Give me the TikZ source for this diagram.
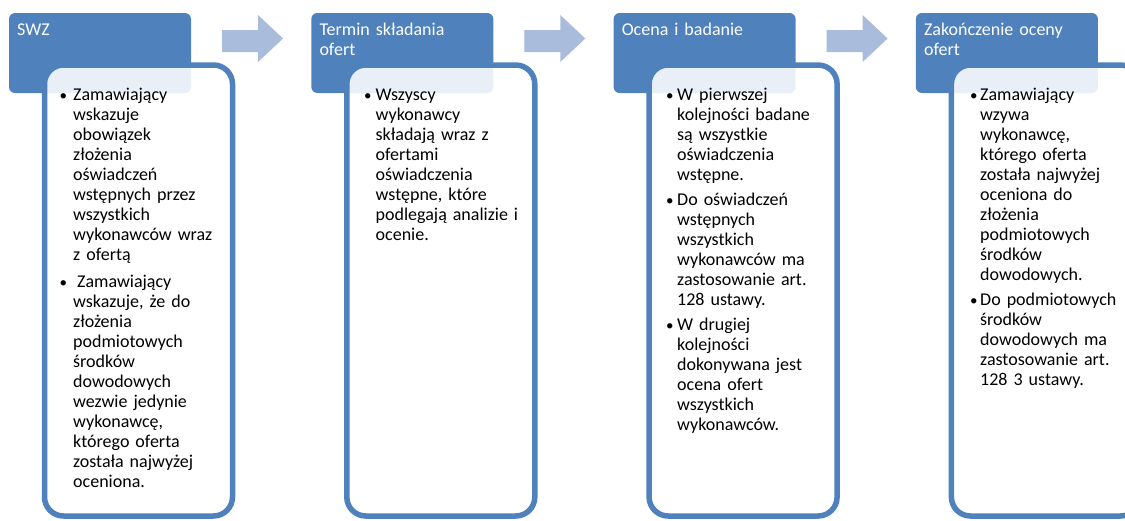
\documentclass[tikz,border=0pt]{standalone}
\usepackage{fontspec}
\setmainfont{Carlito}
\definecolor{hdr}{HTML}{4F81BD}
\definecolor{arr}{HTML}{A9BCDB}
\begin{document}
\begin{tikzpicture}[x=1pt,y=-1pt,
  header/.style={fill=hdr, rounded corners=6pt, minimum width=182pt, minimum height=80pt, anchor=north west, inner sep=0pt, outer sep=0pt},
  panel/.style={draw=hdr, line width=5.5pt, fill=white, fill opacity=0.88, draw opacity=1, rounded corners=19pt, minimum width=188pt, minimum height=451pt, anchor=north west, inner sep=0pt, outer sep=0pt},
  htext/.style={anchor=base west, text=white, font=\fontsize{18}{20}\selectfont, inner sep=0pt, text width=175pt, align=left},
  btext/.style={anchor=base west, text=black, font=\fontsize{18}{20}\selectfont, inner sep=0pt, text width=170pt, align=left},
  bul/.style={anchor=base west, text=black, font=\fontsize{15}{20}\selectfont, inner sep=0pt},
  arrowshape/.style={fill=arr}
]
\useasboundingbox (0,0) rectangle (1125,520);
\clip (0,0) rectangle (1125,520);

% headers
\node[header] (h1) at (9,13) {};
\node[header] (h2) at (311.3,13) {};
\node[header] (h3) at (613.6,13) {};
\node[header] (h4) at (915.9,13) {};

% arrows
\foreach \h in {h1,h2,h3}{
  \begin{scope}[shift={(\h.north west)}]
    \path[arrowshape] (213,17) -- (249,17) -- (249,2) -- (274,25.5) -- (249,49) -- (249,39) -- (213,39) -- cycle;
  \end{scope}
}

% panels
\node[panel] (b1) at (44.5,65) {};
\node[panel] (b2) at (346.8,65) {};
\node[panel] (b3) at (649.1,65) {};
\node[panel] (b4) at (951.4,65) {};

% header texts
\node[htext] (t1) at (17,35) {SWZ};
\node[htext] (t2) at (319.3,35) {Termin składania\\ofert};
\node[htext] (t3) at (621.6,35) {Ocena i badanie};
\node[htext] (t4) at (923.9,35) {Zakończenie oceny\\ofert};

% box 1
\node[bul] (u11) at (59.5,100) {•};
\node[btext] (p11) at (73,100) {Zamawiający\\wskazuje\\obowiązek\\złożenia\\oświadczeń\\wstępnych przez\\wszystkich\\wykonawców wraz\\z ofertą};
\node[bul] (u12) at (59.5,287) {•};
\node[btext] (p12) at (73,287) {\hspace*{4pt}Zamawiający\\wskazuje, że do\\złożenia\\podmiotowych\\środków\\dowodowych\\wezwie jedynie\\wykonawcę,\\którego oferta\\została najwyżej\\oceniona.};

% box 2
\node[bul] (u21) at (363.8,100) {•};
\node[btext] (p21) at (375.5,100) {Wszyscy\\wykonawcy\\składają wraz z\\ofertami\\oświadczenia\\wstępne, które\\podlegają analizie i\\ocenie.};

% box 3
\node[bul] (u31) at (666,100) {•};
\node[btext] (p31) at (677,100) {W pierwszej\\kolejności badane\\są wszystkie\\oświadczenia\\wstępne.};
\node[bul] (u32) at (666,205) {•};
\node[btext] (p32) at (677,205) {Do oświadczeń\\wstępnych\\wszystkich\\wykonawców ma\\zastosowanie art.\\128 ustawy.};
\node[bul] (u33) at (666,330) {•};
\node[btext] (p33) at (677,330) {W drugiej\\kolejności\\dokonywana jest\\ocena ofert\\wszystkich\\wykonawców.};

% box 4
\node[bul] (u41) at (970,100) {•};
\node[btext] (p41) at (980,100) {Zamawiający\\wzywa\\wykonawcę,\\którego oferta\\została najwyżej\\oceniona do\\złożenia\\podmiotowych\\środków\\dowodowych.};
\node[bul] (u42) at (970,305) {•};
\node[btext] (p42) at (980,305) {Do podmiotowych\\środków\\dowodowych ma\\zastosowanie art.\\128 3 ustawy.};
\end{tikzpicture}
\end{document}
